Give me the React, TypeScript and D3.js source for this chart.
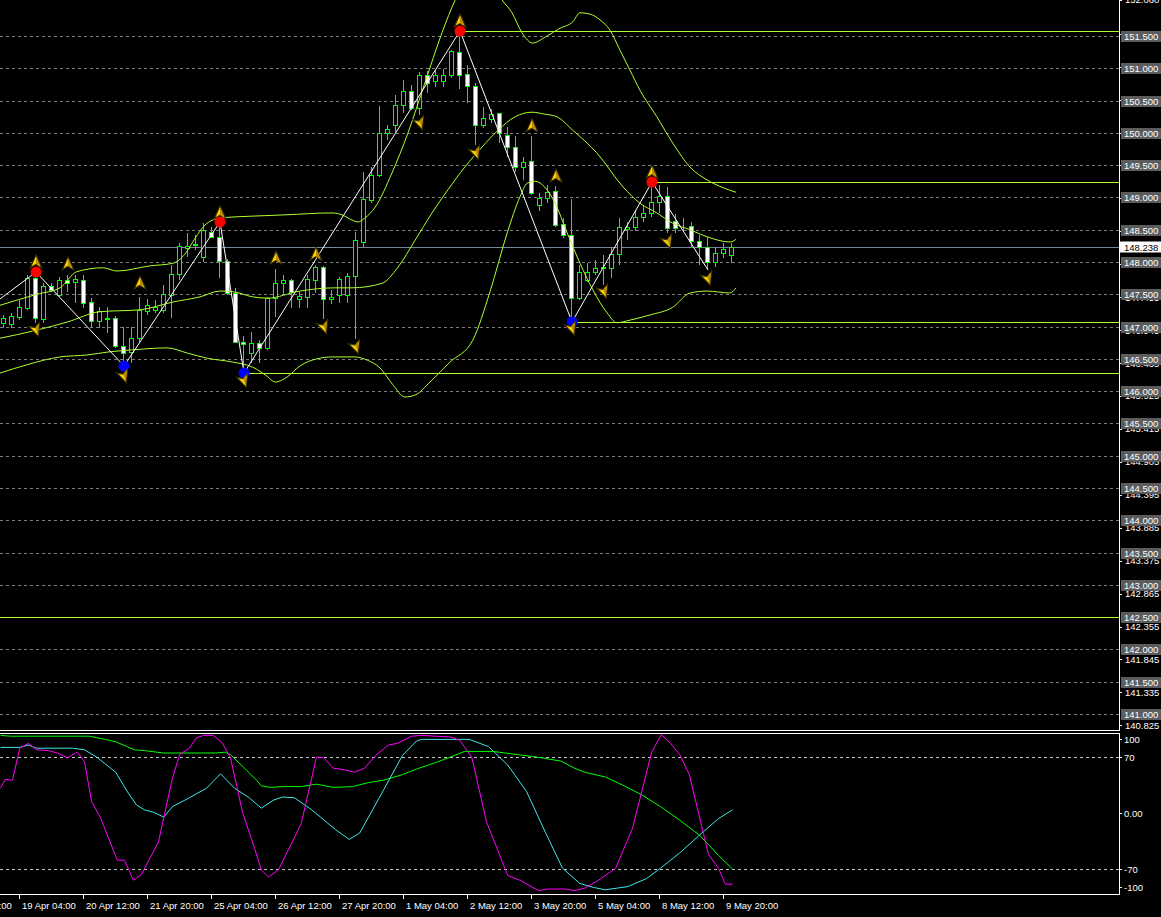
import React from 'react';
import * as d3 from 'd3';

// ---------- DATA ----------
const opens = [
147.055, 147.040, 147.148, 147.287, 147.752, 147.117, 147.628, 147.489, 147.721, 147.690,
147.721, 147.380, 147.086, 147.133, 147.133, 146.699, 146.606, 146.823, 147.241, 147.256,
147.256, 147.489, 147.814, 148.217, 148.263, 148.077, 148.465, 148.387, 148.015, 147.520,
146.761, 146.591, 146.745, 146.668, 147.442, 147.675, 147.721, 147.427, 147.458, 147.721,
147.922, 147.427, 147.489, 147.489, 147.783, 148.310, 148.960, 149.347, 149.998, 150.122,
150.431, 150.648, 150.385, 150.896, 150.803, 150.803, 150.896, 151.252, 150.911, 150.726,
150.122, 150.215, 150.307, 149.967, 149.781, 149.471, 149.564, 148.883, 148.991, 149.099,
148.589, 148.418, 147.442, 147.721, 147.845, 147.907, 147.907, 148.124, 148.511, 148.542,
148.697, 148.759, 148.929, 149.022, 148.635, 148.558, 148.558, 148.325, 148.232, 148.000,
148.139, 148.108];
const highs = [
147.179, 147.210, 147.411, 147.799, 147.845, 147.675, 147.675, 147.768, 147.799, 147.799,
147.799, 147.442, 147.303, 147.303, 147.164, 146.993, 146.993, 147.458, 147.427, 147.411,
147.644, 147.953, 148.294, 148.449, 148.418, 148.604, 148.542, 148.620, 148.046, 147.597,
146.854, 146.916, 146.792, 147.458, 147.891, 147.799, 147.737, 147.535, 147.799, 147.953,
147.938, 147.566, 147.768, 147.830, 148.465, 149.390, 149.471, 150.416, 150.122, 150.586,
150.819, 150.741, 150.942, 150.958, 150.973, 150.989, 151.283, 151.577, 151.051, 150.772,
150.400, 150.369, 150.307, 150.091, 149.951, 149.626, 149.951, 149.068, 149.192, 149.177,
148.681, 148.976, 147.953, 147.984, 148.031, 148.108, 148.232, 148.681, 148.619, 148.805,
148.883, 149.239, 149.192, 149.161, 148.743, 148.681, 148.619, 148.418, 148.387, 148.232,
148.294, 148.294];
const lows = [
146.978, 146.978, 147.102, 147.256, 147.055, 147.055, 147.535, 147.458, 147.535, 147.365,
147.287, 146.978, 146.978, 146.900, 146.668, 146.389, 146.436, 146.761, 147.179, 147.210,
147.210, 147.133, 147.721, 148.077, 148.186, 148.000, 148.372, 147.752, 147.489, 146.745,
146.280, 146.436, 146.436, 146.637, 147.148, 147.489, 147.287, 147.287, 147.287, 147.520,
147.117, 147.349, 147.365, 147.365, 146.807, 148.232, 148.914, 149.316, 149.889, 150.013,
150.307, 150.354, 150.276, 150.617, 150.710, 150.710, 150.849, 150.679, 150.462, 149.812,
150.075, 150.153, 149.843, 149.626, 149.394, 149.270, 149.037, 148.790, 148.914, 148.542,
148.372, 147.071, 147.411, 147.690, 147.799, 147.644, 147.752, 147.953, 148.341, 148.480,
148.619, 148.697, 148.759, 148.449, 148.449, 148.465, 148.232, 147.953, 147.876, 147.922,
148.062, 147.984];
const closes = [
147.133, 147.164, 147.303, 147.752, 147.133, 147.628, 147.566, 147.721, 147.675, 147.737,
147.365, 147.086, 147.241, 147.125, 146.699, 146.591, 146.823, 147.256, 147.334, 147.303,
147.504, 147.814, 148.248, 148.248, 148.279, 148.495, 148.387, 148.015, 147.520, 146.761,
146.730, 146.745, 146.668, 147.442, 147.675, 147.721, 147.535, 147.473, 147.737, 147.922,
147.427, 147.458, 147.737, 147.783, 148.341, 148.976, 149.347, 149.998, 150.060, 150.431,
150.648, 150.385, 150.896, 150.772, 150.896, 150.896, 151.268, 150.896, 150.726, 150.122,
150.230, 150.292, 149.998, 149.781, 149.471, 149.549, 149.068, 148.991, 149.084, 148.573,
148.418, 147.442, 147.845, 147.845, 147.907, 147.922, 148.124, 148.542, 148.542, 148.697,
148.759, 148.929, 149.022, 148.526, 148.526, 148.550, 148.325, 148.232, 148.000, 148.139,
148.201, 148.238];

// Bollinger-style bands: [bar index, price]
const bandUpper = [
[-0.5,147.33],[4.1,147.50],[7,147.60],[9.1,147.85],[12.4,147.91],[14.1,147.86],[18.25,147.94],[21.1,147.98],
[22.6,148.12],[23.9,148.37],[25.1,148.57],[27,148.68],[31,148.71],[35.1,148.73],[41,148.76],[42.25,148.73],
[43.5,148.65],[44.25,148.62],[45.1,148.68],[46.4,148.85],[48.5,149.38],[50.5,150.00],[52.6,150.77],[54.75,151.55],
[56.4,152.06],[59.5,152.68],[62.25,152.06],[63.5,151.86],[64.75,151.55],[66.1,151.39],[67.6,151.48],[69.5,151.62],
[71.1,151.72],[72,151.86],[73.25,151.84],[74.5,151.75],[75.75,151.59],[77,151.28],[78.25,150.97],[79.5,150.66],
[81.6,150.25],[83.6,149.84],[85.75,149.47],[87.9,149.27],[89.9,149.15],[91.5,149.08]];
const bandMiddle = [
[-0.5,146.82],[3.6,146.93],[7.9,147.07],[12,147.23],[17,147.26],[21.1,147.38],[24.5,147.46],[27,147.55],
[28.6,147.54],[31.1,147.46],[32.9,147.44],[37,147.55],[41.4,147.60],[43.5,147.60],[47.25,147.67],[49.25,147.92],
[51.4,148.34],[53.5,148.76],[55.5,149.12],[57.6,149.47],[59.75,149.78],[61.75,150.04],[63.9,150.25],[66,150.32],
[67.6,150.29],[69.1,150.25],[71.1,150.04],[74.1,149.69],[77.4,149.16],[79.5,148.91],[81.6,148.76],[83.6,148.60],
[85.75,148.50],[87.9,148.39],[90.75,148.31],[91.5,148.35]];
const bandLower = [
[-0.5,146.28],[2.9,146.41],[7,146.53],[10.4,146.56],[13.25,146.61],[16.1,146.64],[20.4,146.67],[22.9,146.59],
[25.4,146.51],[28.6,146.45],[31.1,146.37],[32.9,146.23],[33.9,146.14],[35.4,146.22],[37,146.39],[39.1,146.50],
[41.1,146.53],[43.9,146.53],[45.4,146.48],[47,146.36],[48.6,146.10],[50.1,145.91],[51.4,145.94],[53.25,146.14],
[55.75,146.45],[58.6,146.79],[60.75,147.54],[62.9,148.45],[64.5,149.01],[65.4,149.22],[66.4,149.25],[67.6,149.16],
[68.9,148.91],[70.4,148.45],[72,147.98],[73.6,147.57],[75.4,147.21],[76.6,147.06],[78.25,147.10],[80.75,147.18],
[83.6,147.30],[85.75,147.52],[87.9,147.55],[90.75,147.52],[91.5,147.60]];

// ZigZag pivots [bar, price]
const zigzag = [[-3,147.195],[4,147.845],[15,146.389],[27,148.62],[30,146.28],[57,151.577],[71,147.071],[81,149.239],[88,147.876]];
const highPivots = [[4,147.845],[27,148.62],[57,151.577],[81,149.239]];
const lowPivots = [[15,146.389],[30,146.28],[71,147.071]];
const levelLines = [[57,151.577],[81,149.239],[71,147.071],[30,146.28],[-10,142.5]];

const upArrows = [[4,148.00],[8,147.97],[17,147.675],[27,148.76],[34,148.06],[39,148.12],[57,151.73],[66,150.11],[69,149.33],[81,149.39]];
const downArrows = [[-1,146.72],[4,146.95],[15,146.23],[30,146.16],[40,146.99],[44,146.68],[52,150.15],[59,149.69],[71,146.97],[75,147.54],[83,148.31],[88,147.74]];

// Oscillator lines [bar, value]
const oscMagenta = [
[-0.5,31],[0.1,42],[1,41],[1.9,81],[3,87],[4,79],[5.5,78],[6.6,75],[7.9,69],[9.1,76],[10,64],[10.9,14],[12,-6],
[14.1,-59],[15,-59],[16.1,-84],[17.1,-77],[19.25,-36],[21,44],[21.9,73],[23.1,81],[24,94],[24.9,97],[26.1,97],
[27.25,87],[28.25,69],[29.75,1],[31.25,-44],[32.1,-71],[33,-80],[34.25,-71],[37.1,-13],[39,70],[39.9,69],[41.1,56],
[42.5,54],[43.75,51],[45,56],[46.5,73],[48,85],[49.1,87],[50.9,96],[52.1,97],[55.75,95],[56.9,91],[58.4,70],
[60.25,-11],[62.9,-78],[64.4,-84],[66.75,-97],[68,-95],[70.1,-95],[71.25,-97],[72.5,-94],[74.25,-84],[76.4,-69],
[78.5,-19],[80.9,76],[82.1,98],[83.25,87],[84.4,73],[85.6,48],[88,-52],[89.25,-69],[90.1,-89],[91,-89]];
const oscCyan = [
[-0.5,82],[1.9,82],[3,85],[4,81],[8.5,81],[10,79],[11.5,70],[13.9,51],[15.4,26],[16.5,10],[17.5,4],[18.6,1],
[19.9,-5],[21,8],[23.1,19],[25.25,31],[27,49],[28.75,31],[30.6,19],[32.1,6],[33.6,16],[34.75,20],[36.25,19],
[38.4,4],[41.4,-21],[43.1,-33],[44.4,-25],[47.4,29],[49.75,72],[51.5,90],[52.1,92],[58.1,92],[60.5,83],[62.9,60],
[65.25,27],[67.6,-24],[69.75,-69],[71.9,-88],[73.6,-93],[75.1,-96],[77.9,-92],[80.25,-82],[82,-69],[84.4,-50],
[87.4,-23],[89.25,-7],[91,4]];
const oscGreen = [
[-0.5,97],[0.75,96],[10.6,96],[12.6,92],[13.9,89],[16.25,79],[17.5,78],[19.9,75],[26.4,75],[27.6,76],[28.25,73],
[30,56],[31.5,41],[32.1,34],[33.25,32],[34.75,33],[37.1,33],[39,36],[41.1,32],[43.5,33],[45.5,38],[47.4,41],
[49.75,48],[51.5,55],[53.9,63],[55.75,70],[57.5,77],[61.1,77],[64.1,73],[66.5,70],[69.5,65],[71.25,56],[72.5,51],
[75.1,45],[77.25,35],[79.6,23],[82,8],[84.4,-9],[86.9,-28],[89.25,-53],[91,-70]];

const gridLevels = [141.0,141.5,142.0,142.5,143.0,143.5,144.0,144.5,145.0,145.5,146.0,146.5,147.0,147.5,148.0,148.5,149.0,149.5,150.0,150.5,151.0,151.5];
const scaleLabels = [140.825,141.335,141.845,142.355,142.865,143.375,143.885,144.395,144.905,145.415,145.925,146.435,146.945,147.455,147.965,148.475,148.985,149.495,150.005,150.515,151.025,151.535,152.060];
const currentPrice = 148.238;
const oscLevels = [70, -70];
const oscLabels = [[100,'100'],[70,'70'],[0,'0.00'],[-70,'-70'],[-100,'-100']];
const timeTickBars = [-6,2,10,18,26,34,42,50,58,66,74,82,90];
const timeTickLabels = ['18 Apr 20:00','19 Apr 04:00','20 Apr 12:00','21 Apr 20:00','25 Apr 04:00','26 Apr 12:00','27 Apr 20:00','1 May 04:00','2 May 12:00','3 May 20:00','5 May 04:00','8 May 12:00','9 May 20:00'];

// ---------- LAYOUT ----------
const W = 1161, H = 917;
const AX = 1119;           // right axis line
const MAIN_BOTTOM = 730;
const SUB_TOP = 733, SUB_BOTTOM = 894;
const FONT = "'Liberation Sans', Arial, sans-serif";
const LIME = '#00FF00';
const BAND = '#ADFF2F';

const xS = d3.scaleLinear().domain([0, 91]).range([4, 732]);
const yS = d3.scaleLinear().domain([141, 151.5]).range([714, 36]);
const oS = d3.scaleLinear().domain([-100, 100]).range([893, 733]);

const priceLine = d3.line<number[]>().x(d => xS(d[0])).y(d => yS(d[1])).curve(d3.curveMonotoneX);
const oscLine = d3.line<number[]>().x(d => xS(d[0]) + 0.5).y(d => oS(d[1])).curve(d3.curveLinear);

function UpArrow({ x, y }: { x: number; y: number }) {
  return (
    <g transform={`translate(${x},${y}) scale(1.15)`}>
      <polygon points="0,-6 5,5 0,2 -5,5" fill="#FFD400" stroke="#3b2f00" strokeWidth={1} />
      <polygon points="0,-5 0,2 4,4.5" fill="#B88A00" />
    </g>
  );
}
function DownArrow({ x, y }: { x: number; y: number }) {
  return (
    <g transform={`translate(${x},${y}) rotate(-20) scale(1.15)`}>
      <polygon points="0,6 5,-5 0,-2 -5,-5" fill="#FFD400" stroke="#3b2f00" strokeWidth={1} />
      <polygon points="0,5 0,-2 4,-4.5" fill="#B88A00" />
    </g>
  );
}

export default function App() {
  const candles = opens.map((o, i) => ({ i, o, h: highs[i], l: lows[i], c: closes[i] }));
  const cpY = Math.round(yS(currentPrice)) + 0.5;
  return (
    <div>
      <style>{`body{margin:0;background:#000;}`}</style>
      <svg width={W} height={H} style={{ display: 'block', background: '#000' }} fontFamily={FONT}>
        <defs>
          <clipPath id="mainClip"><rect x={0} y={0} width={AX} height={MAIN_BOTTOM} /></clipPath>
          <clipPath id="subClip"><rect x={0} y={SUB_TOP + 1} width={AX} height={SUB_BOTTOM - SUB_TOP - 1} /></clipPath>
        </defs>
        <rect x={0} y={0} width={W} height={H} fill="#000" />

        {/* main panel */}
        <g clipPath="url(#mainClip)">
          <g shapeRendering="crispEdges">
            {gridLevels.map(g => (
              <line key={'g' + g} x1={0} x2={AX} y1={Math.round(yS(g)) + 0.5} y2={Math.round(yS(g)) + 0.5}
                stroke="#7d7d7d" strokeDasharray="3,3" />
            ))}
            <line x1={0} x2={AX} y1={cpY} y2={cpY} stroke="#778899" />
            {levelLines.map(([b, p], k) => (
              <line key={'lv' + k} x1={Math.max(0, xS(b))} x2={AX} y1={Math.round(yS(p)) + 0.5} y2={Math.round(yS(p)) + 0.5} stroke={BAND} />
            ))}
          </g>
          <g shapeRendering="crispEdges">
            {candles.map(d => {
              const cx = Math.round(xS(d.i));
              const yo = Math.round(yS(d.o)), yc = Math.round(yS(d.c));
              const top = Math.min(yo, yc), bot = Math.max(yo, yc);
              const bull = d.c >= d.o;
              return (
                <g key={'c' + d.i}>
                  <line x1={cx - 0.5} x2={cx - 0.5} y1={Math.round(yS(d.h))} y2={Math.round(yS(d.l))} stroke={LIME} />
                  <rect x={cx - 2.5} y={top + 0.5} width={4} height={Math.max(0, bot - top)}
                    fill={bull ? '#000' : '#fff'} stroke={LIME} />
                </g>
              );
            })}
          </g>
          {[bandUpper, bandMiddle, bandLower].map((b, k) => (
            <path key={'b' + k} d={priceLine(b as number[][]) || ''} fill="none" stroke={BAND} strokeWidth={1} />
          ))}
          <path d={d3.line<number[]>().x(d => xS(d[0])).y(d => yS(d[1]))(zigzag as number[][]) || ''} fill="none" stroke="#fff" strokeWidth={1} />
          {highPivots.map(([b, p], k) => (
            <circle key={'hp' + k} cx={xS(b)} cy={yS(p)} r={5.5} fill="#FF0000" />
          ))}
          {lowPivots.map(([b, p], k) => (
            <circle key={'lp' + k} cx={xS(b)} cy={yS(p)} r={5.5} fill="#0000FF" />
          ))}
          {upArrows.map(([b, p], k) => <UpArrow key={'ua' + k} x={xS(b)} y={yS(p)} />)}
          {downArrows.map(([b, p], k) => <DownArrow key={'da' + k} x={xS(b)} y={yS(p)} />)}
        </g>

        {/* price axis */}
        {scaleLabels.map(v => {
          const y = yS(v);
          return (
            <g key={'sl' + v}>
              <line x1={AX} x2={AX + 3} y1={Math.round(y) + 0.5} y2={Math.round(y) + 0.5} stroke="#fff" />
              <text x={1125} y={y + 3.5} fill="#fff" fontSize={9.5}>{v.toFixed(3)}</text>
            </g>
          );
        })}
        {gridLevels.map(g => {
          const y = Math.round(yS(g));
          return (
            <g key={'gl' + g}>
              <rect x={1121} y={y - 5} width={40} height={11} fill="#5c5c5c" />
              <text x={1124} y={y + 3.5} fill="#fff" fontSize={9.5}>{g.toFixed(3)}</text>
            </g>
          );
        })}
        <rect x={1120} y={cpY - 6} width={41} height={11} fill="#fff" />
        <text x={1124} y={cpY + 3} fill="#000" fontSize={9.5}>{currentPrice.toFixed(3)}</text>

        {/* borders */}
        <g shapeRendering="crispEdges">
          <line x1={AX + 0.5} x2={AX + 0.5} y1={0} y2={MAIN_BOTTOM + 1} stroke="#fff" />
          <line x1={0} x2={AX + 1} y1={MAIN_BOTTOM + 0.5} y2={MAIN_BOTTOM + 0.5} stroke="#fff" />
          <line x1={0} x2={AX + 1} y1={SUB_TOP + 0.5} y2={SUB_TOP + 0.5} stroke="#fff" />
          <line x1={AX + 0.5} x2={AX + 0.5} y1={SUB_TOP} y2={SUB_BOTTOM + 1} stroke="#fff" />
          <line x1={0} x2={AX + 1} y1={SUB_BOTTOM + 0.5} y2={SUB_BOTTOM + 0.5} stroke="#fff" />
        </g>

        {/* oscillator subwindow */}
        <g clipPath="url(#subClip)">
          {oscLevels.map(l => (
            <line key={'ol' + l} x1={0} x2={AX} y1={Math.round(oS(l)) + 0.5} y2={Math.round(oS(l)) + 0.5}
              stroke="#c8c8c8" strokeDasharray="3,3" shapeRendering="crispEdges" />
          ))}
          <path d={oscLine(oscGreen as number[][]) || ''} fill="none" stroke="#00FF00" strokeWidth={1} />
          <path d={oscLine(oscCyan as number[][]) || ''} fill="none" stroke="#40E8E8" strokeWidth={1} />
          <path d={oscLine(oscMagenta as number[][]) || ''} fill="none" stroke="#FF00FF" strokeWidth={1} />
        </g>
        {oscLabels.map(([v, t]) => {
          const y = Math.min(Math.max(oS(v as number), 739), 887);
          return (
            <g key={'osl' + t}>
              <line x1={AX} x2={AX + 3} y1={Math.round(y) + 0.5} y2={Math.round(y) + 0.5} stroke="#fff" />
              <text x={1124} y={y + 3.5} fill="#fff" fontSize={9.5}>{t as string}</text>
            </g>
          );
        })}

        {/* time axis */}
        {timeTickBars.map((b, k) => {
          const x = Math.round(xS(b));
          return (
            <g key={'tt' + k}>
              <line x1={x - 0.5} x2={x - 0.5} y1={SUB_BOTTOM} y2={SUB_BOTTOM + 5} stroke="#fff" />
              <text x={x + 2} y={909} fill="#fff" fontSize={9.5}>{timeTickLabels[k]}</text>
            </g>
          );
        })}
      </svg>
    </div>
  );
}
